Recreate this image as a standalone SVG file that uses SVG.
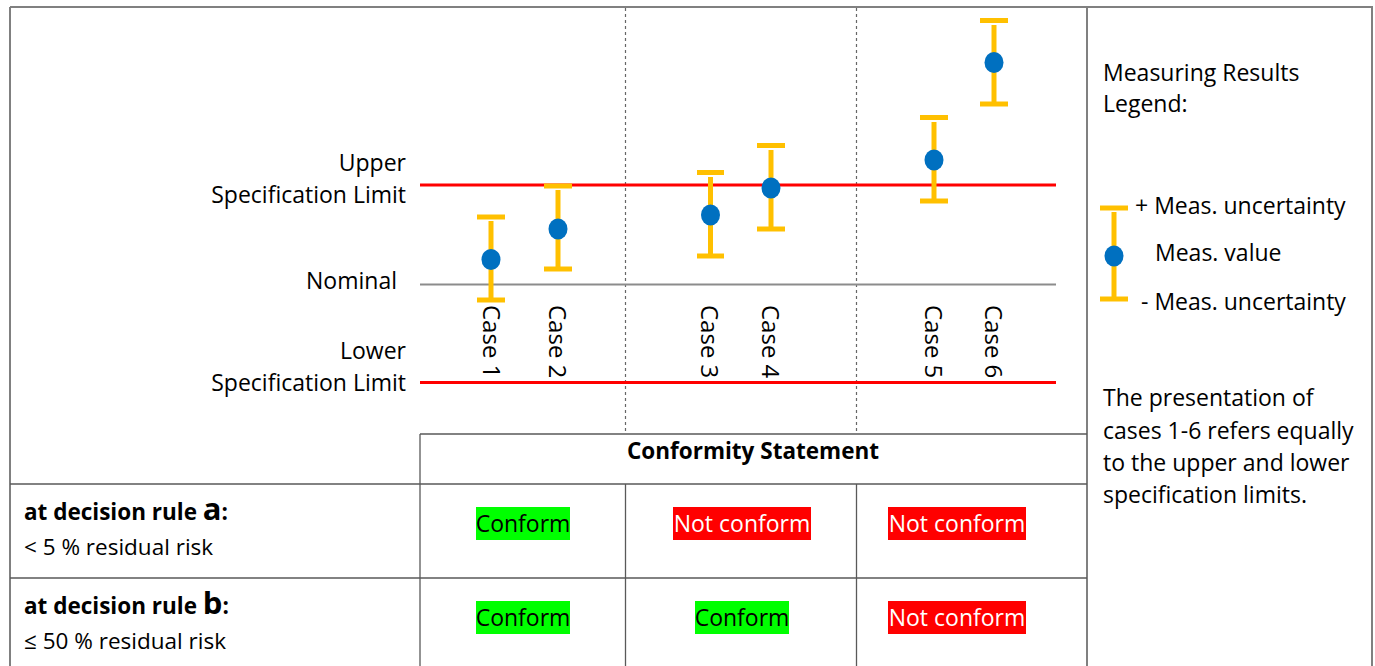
<svg xmlns="http://www.w3.org/2000/svg" width="1375" height="666" viewBox="0 0 1375 666">
<style>
  .t { font-family: "Open Sans", "Noto Sans", sans-serif; font-size: 23px; fill: #000; }
  .tr { text-anchor: end; }
  .case { font-family: "Open Sans", "Noto Sans", sans-serif; font-size: 24px; fill: #000; }
  .tb { font-family: "Open Sans", "Noto Sans", sans-serif; font-size: 22.5px; fill: #000; }
  .bold { font-weight: bold; }
  .frame { stroke: #808080; stroke-width: 2; fill: none; }
  .grid { stroke: #595959; stroke-width: 1.3; fill: none; }
  .dash { stroke: #666; stroke-width: 1.2; stroke-dasharray: 3 3; fill: none; }
  .limit { stroke: #FF0000; stroke-width: 3; }
  .nominal { stroke: #8c8c8c; stroke-width: 2; }
  .eb { stroke: #FFC000; stroke-width: 5; fill: none; }
  .dot { fill: #0070C0; }
  .ok { fill: #00FF00; }
  .nok { fill: #FF0000; }
  .cell { font-family: "Open Sans", "Noto Sans", sans-serif; font-size: 23px; text-anchor: middle; }
</style>
<rect width="1375" height="666" fill="#fff"/>

<g id="frame">
  <line class="frame" x1="10" y1="7" x2="1373" y2="7"/>
  <line class="frame" x1="10" y1="7" x2="10" y2="666"/>
  <line class="frame" x1="1087" y1="7" x2="1087" y2="666"/>
  <line class="frame" x1="1372" y1="7" x2="1372" y2="666"/>
  <line class="dash" x1="625.5" y1="8" x2="625.5" y2="434"/>
  <line class="dash" x1="856.5" y1="8" x2="856.5" y2="434"/>
</g>

<g id="table">
  <line class="grid" x1="420" y1="434" x2="1087" y2="434"/>
  <line class="grid" x1="10" y1="484" x2="1087" y2="484"/>
  <line class="grid" x1="10" y1="578" x2="1087" y2="578"/>
  <line class="grid" x1="420" y1="434" x2="420" y2="666"/>
  <line class="grid" x1="625.5" y1="484" x2="625.5" y2="666"/>
  <line class="grid" x1="856.5" y1="484" x2="856.5" y2="666"/>
  <text class="tb bold" x="753" y="459" text-anchor="middle" font-size="21">Conformity Statement</text>
  <text class="tb bold" x="24" y="520" font-size="21">at decision rule <tspan font-size="31">a</tspan>:</text>
  <text class="tb" x="24" y="555">&lt; 5 % residual risk</text>
  <text class="tb bold" x="24" y="614" font-size="21">at decision rule <tspan font-size="31">b</tspan>:</text>
  <text class="tb" x="24" y="649">≤ 50 % residual risk</text>
</g>

<g id="cell-a1">
  <rect class="ok" x="476" y="507" width="94" height="33"/>
  <text class="cell" x="523" y="532" fill="#000">Conform</text>
</g>
<g id="cell-a2">
  <rect class="nok" x="673" y="507" width="138" height="33"/>
  <text class="cell" x="742" y="532" fill="#fff">Not conform</text>
</g>
<g id="cell-a3">
  <rect class="nok" x="888" y="507" width="138" height="33"/>
  <text class="cell" x="957" y="532" fill="#fff">Not conform</text>
</g>
<g id="cell-b1">
  <rect class="ok" x="476" y="601" width="94" height="33"/>
  <text class="cell" x="523" y="626" fill="#000">Conform</text>
</g>
<g id="cell-b2">
  <rect class="ok" x="695" y="601" width="94" height="33"/>
  <text class="cell" x="742" y="626" fill="#000">Conform</text>
</g>
<g id="cell-b3">
  <rect class="nok" x="888" y="601" width="138" height="33"/>
  <text class="cell" x="957" y="626" fill="#fff">Not conform</text>
</g>

<g id="limits">
  <line class="limit" x1="420" y1="185" x2="1056" y2="185"/>
  <line class="nominal" x1="420" y1="284.5" x2="1056" y2="284.5"/>
  <line class="limit" x1="420" y1="382.5" x2="1056" y2="382.5"/>
  <text class="t tr" x="406" y="171">Upper</text>
  <text class="t tr" x="406" y="203">Specification Limit</text>
  <text class="t tr" x="397" y="289">Nominal</text>
  <text class="t tr" x="406" y="359">Lower</text>
  <text class="t tr" x="406" y="391">Specification Limit</text>
</g>

<g id="case1">
  <line class="eb" x1="477" y1="217" x2="505" y2="217"/>
  <line class="eb" x1="491" y1="221" x2="491" y2="300"/>
  <line class="eb" x1="477" y1="300" x2="505" y2="300"/>
  <ellipse class="dot" cx="491" cy="259.5" rx="9.5" ry="10.5"/>
  <text class="case" transform="translate(483,305) rotate(90)">Case 1</text>
</g>
<g id="case2">
  <line class="eb" x1="544" y1="186" x2="572" y2="186"/>
  <line class="eb" x1="558" y1="190" x2="558" y2="269"/>
  <line class="eb" x1="544" y1="269" x2="572" y2="269"/>
  <ellipse class="dot" cx="558" cy="229" rx="9.5" ry="10.5"/>
  <text class="case" transform="translate(549,305) rotate(90)">Case 2</text>
</g>
<g id="case3">
  <line class="eb" x1="697" y1="172.5" x2="724" y2="172.5"/>
  <line class="eb" x1="710.5" y1="177" x2="710.5" y2="256"/>
  <line class="eb" x1="697" y1="256" x2="724" y2="256"/>
  <ellipse class="dot" cx="710.5" cy="215" rx="9.5" ry="10.5"/>
  <text class="case" transform="translate(701,305) rotate(90)">Case 3</text>
</g>
<g id="case4">
  <line class="eb" x1="757" y1="145.5" x2="785" y2="145.5"/>
  <line class="eb" x1="771" y1="150" x2="771" y2="229"/>
  <line class="eb" x1="757" y1="229" x2="785" y2="229"/>
  <ellipse class="dot" cx="771" cy="188" rx="9.5" ry="10.5"/>
  <text class="case" transform="translate(762,305) rotate(90)">Case 4</text>
</g>
<g id="case5">
  <line class="eb" x1="920" y1="117.5" x2="948" y2="117.5"/>
  <line class="eb" x1="934" y1="122" x2="934" y2="201"/>
  <line class="eb" x1="920" y1="201" x2="948" y2="201"/>
  <ellipse class="dot" cx="934" cy="160" rx="9.5" ry="10.5"/>
  <text class="case" transform="translate(925,305) rotate(90)">Case 5</text>
</g>
<g id="case6">
  <line class="eb" x1="980" y1="20.5" x2="1008" y2="20.5"/>
  <line class="eb" x1="994" y1="25" x2="994" y2="104"/>
  <line class="eb" x1="980" y1="104" x2="1008" y2="104"/>
  <ellipse class="dot" cx="994" cy="62.5" rx="9.5" ry="10.5"/>
  <text class="case" transform="translate(985,305) rotate(90)">Case 6</text>
</g>

<g id="legend">
  <text class="t" x="1103" y="81">Measuring Results</text>
  <text class="t" x="1103" y="112">Legend:</text>
  <line class="eb" x1="1100" y1="208" x2="1128" y2="208"/>
  <line class="eb" x1="1114" y1="212" x2="1114" y2="299"/>
  <line class="eb" x1="1100" y1="299" x2="1128" y2="299"/>
  <ellipse class="dot" cx="1114" cy="256" rx="9.5" ry="10.5"/>
  <text class="t" x="1135" y="214">+ Meas. uncertainty</text>
  <text class="t" x="1155" y="261">Meas. value</text>
  <text class="t" x="1141" y="310">- Meas. uncertainty</text>
</g>

<g id="note">
  <text class="t" x="1103" y="406">The presentation of</text>
  <text class="t" x="1103" y="439">cases 1-6 refers equally</text>
  <text class="t" x="1103" y="471">to the upper and lower</text>
  <text class="t" x="1103" y="503">specification limits.</text>
</g>
</svg>
